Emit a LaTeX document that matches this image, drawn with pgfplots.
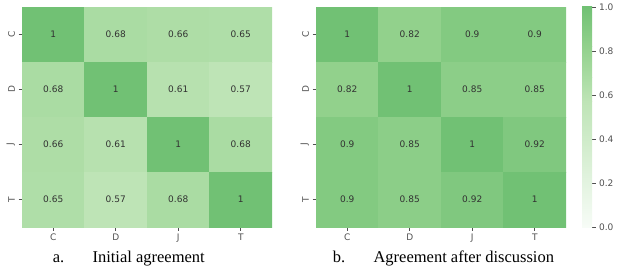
\documentclass[border=0pt]{standalone}
\usepackage{pgfplots}
\pgfplotsset{compat=1.18}
\usepackage{fontspec}
\setmainfont{DejaVu Sans}
\newfontfamily\capfont{Liberation Serif}
\definecolor{tickgray}{RGB}{80,80,80}
\definecolor{celltext}{RGB}{50,50,50}
\definecolor{c000}{RGB}{247,252,247}
\definecolor{c057}{RGB}{190,228,182}
\definecolor{c068}{RGB}{170,220,163}
\definecolor{c082}{RGB}{146,209,140}
\definecolor{c100}{RGB}{113,193,116}
\pgfplotsset{
  /pgf/number format/assume math mode=true,
  colormap={gr}{rgb255(0cm)=(247,252,247) rgb255(57cm)=(190,228,182) rgb255(68cm)=(170,220,163) rgb255(82cm)=(146,209,140) rgb255(100cm)=(113,193,116)},
  hm/.style={
    scale only axis, width=250pt, height=220pt,
    xmin=-0.5, xmax=3.5, ymin=-0.5, ymax=3.5,
    y dir=reverse,
    axis line style={draw=none},
    xtick={0,1,2,3}, ytick={0,1,2,3},
    xticklabels={C,D,J,T}, yticklabels={C,D,J,T},
    yticklabel style={rotate=90, anchor=south, font=\fontsize{9}{10}\selectfont, text=tickgray},
    xticklabel style={font=\fontsize{9}{10}\selectfont, text=tickgray},
    tick align=outside, tick pos=left,
    major tick length=3.5pt,
    tick style={tickgray, line width=0.6pt},
    colormap name=gr,
    point meta min=0, point meta max=1,
    anchor=south west,
  },
  cells/.style={
    matrix plot*, mesh/cols=4, point meta=explicit,
    nodes near coords, nodes near coords align=center,
    nodes near coords style={anchor=center, font=\fontsize{9}{10}\selectfont, text=celltext},
  },
}
\begin{document}
\begin{tikzpicture}
\useasboundingbox (0pt,0pt) rectangle (617pt,268pt);
\begin{axis}[hm, at={(22pt,41pt)}]
\addplot[cells] table[meta=v] {
x y v
0 0 1
1 0 0.68
2 0 0.66
3 0 0.65
0 1 0.68
1 1 1
2 1 0.61
3 1 0.57
0 2 0.66
1 2 0.61
2 2 1
3 2 0.68
0 3 0.65
1 3 0.57
2 3 0.68
3 3 1
};
\end{axis}
\begin{axis}[hm, at={(316pt,41pt)}]
\addplot[cells] table[meta=v] {
x y v
0 0 1
1 0 0.82
2 0 0.9
3 0 0.9
0 1 0.82
1 1 1
2 1 0.85
3 1 0.85
0 2 0.9
1 2 0.85
2 2 1
3 2 0.92
0 3 0.9
1 3 0.85
2 3 0.92
3 3 1
};
\end{axis}
\begin{axis}[
  at={(582pt,41pt)}, anchor=south west,
  scale only axis, width=10pt, height=220pt,
  xmin=0, xmax=1, ymin=0, ymax=1,
  axis line style={draw=none},
  xtick=\empty,
  ytick={0,0.2,0.4,0.6,0.8,1},
  ytick pos=right,
  yticklabel pos=right,
  yticklabel style={font=\fontsize{9}{10}\selectfont, text=tickgray,
      /pgf/number format/.cd, fixed, fixed zerofill, precision=1},
  tick align=outside, major tick length=3.5pt,
  tick style={tickgray, line width=0.6pt},
]
\fill[bottom color=c000, top color=c057, shading angle=0] (axis cs:0,0) rectangle (axis cs:1,0.57);
\fill[bottom color=c057, top color=c068] (axis cs:0,0.57) rectangle (axis cs:1,0.68);
\fill[bottom color=c068, top color=c082] (axis cs:0,0.68) rectangle (axis cs:1,0.82);
\fill[bottom color=c082, top color=c100] (axis cs:0,0.82) rectangle (axis cs:1,1);
\end{axis}
\node[anchor=base, font=\capfont\fontsize{16.5}{19}\selectfont] at (58.5pt,6pt) {a.};
\node[anchor=base west, font=\capfont\fontsize{16.5}{19}\selectfont] at (89pt,6pt) {Initial agreement};
\node[anchor=base, font=\capfont\fontsize{16.5}{19}\selectfont] at (339pt,6pt) {b.};
\node[anchor=base west, font=\capfont\fontsize{16.5}{19}\selectfont] at (370pt,6pt) {Agreement after discussion};
\end{tikzpicture}
\end{document}
